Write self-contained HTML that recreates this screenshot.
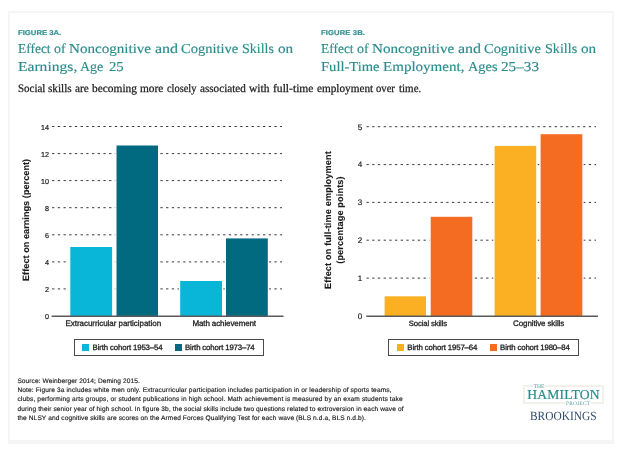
<!DOCTYPE html>
<html lang="en">
<head>
<meta charset="utf-8">
<title>Figure 3</title>
<style>
html,body{margin:0;padding:0;background:#fff;}
body{width:628px;height:458px;position:relative;overflow:hidden;text-rendering:geometricPrecision;font-family:"Liberation Sans",sans-serif;}
.abs{position:absolute;white-space:nowrap;line-height:1;}
#frame{position:absolute;left:8px;top:11px;width:602px;height:427px;border:2px solid #f5f5f5;border-bottom-width:4px;}
.fig{font-family:"Liberation Sans",sans-serif;font-weight:bold;font-size:7px;color:#359393;-webkit-text-stroke:0.2px #359393;transform-origin:0 0;transform:scaleX(1.1);}
.title{font-family:"Liberation Serif",serif;font-size:13.6px;color:#2b8c8c;line-height:19px;-webkit-text-stroke:0.15px #2b8c8c;}
.sub{font-family:"Liberation Serif",serif;font-size:11.5px;color:#1c1c1c;-webkit-text-stroke:0.25px #1c1c1c;}
.note{font-family:"Liberation Sans",sans-serif;font-size:6.6px;color:#1c1c1c;line-height:9.2px;-webkit-text-stroke:0.15px #1c1c1c;}
.tick{font-family:"Liberation Sans",sans-serif;font-size:7.2px;color:#222;text-align:right;-webkit-text-stroke:0.2px #222;}
.cat{font-family:"Liberation Sans",sans-serif;font-size:8px;color:#222;-webkit-text-stroke:0.3px #222;}
.leg{font-family:"Liberation Sans",sans-serif;font-size:7.8px;color:#222;-webkit-text-stroke:0.3px #222;}
.ylab{font-family:"Liberation Sans",sans-serif;font-weight:bold;font-size:9.1px;color:#1a1a1a;-webkit-text-stroke:0.12px #1a1a1a;transform-origin:0 0;transform:rotate(-90deg);text-align:center;}
.line{position:absolute;left:0;width:628px;height:19px;white-space:nowrap;}
.w{position:absolute;top:0;transform-origin:0 0;}
.title .w{transform-origin:0 14.3px;}
.legbox{position:absolute;border:1.2px solid #4a4a4a;box-sizing:border-box;}
.sw{position:absolute;width:7px;height:7px;}
svg{position:absolute;left:0;top:0;}
/*LS-START*/
#figa{letter-spacing:-0.003px;}
#figb{letter-spacing:0.075px;}
#c1{letter-spacing:-0.048px;}
#c2{letter-spacing:-0.112px;}
#c3{letter-spacing:-0.12px;}
#c4{letter-spacing:-0.12px;}
#l1{letter-spacing:-0.126px;}
#l2{letter-spacing:-0.142px;}
#l3{letter-spacing:-0.121px;}
#l4{letter-spacing:-0.142px;}
#n1{letter-spacing:0.074px;}
#n2{letter-spacing:0.117px;}
#n3{letter-spacing:0.129px;}
#n4{letter-spacing:0.092px;}
#n5{letter-spacing:0.093px;}
#ham{letter-spacing:0.2px;}
#ta1w1{transform:scaleX(0.989);}
#ta1w2{transform:scaleX(1.024);}
#ta1w3{transform:scaleX(1.109);}
#ta1w4{transform:scaleX(1.176);}
#ta1w5{transform:scaleX(1.068);}
#ta1w6{transform:scaleX(1.030);}
#ta1w7{transform:scaleX(1.118);}
#ta2w1{transform:scaleX(1.146);}
#ta2w2{transform:scaleX(1.028);}
#ta2w3{transform:scaleX(1.082);}
#tb1w1{transform:scaleX(0.989);}
#tb1w2{transform:scaleX(1.024);}
#tb1w3{transform:scaleX(1.112);}
#tb1w4{transform:scaleX(1.176);}
#tb1w5{transform:scaleX(1.063);}
#tb1w6{transform:scaleX(1.039);}
#tb1w7{transform:scaleX(1.118);}
#tb2w1{transform:scaleX(1.072);}
#tb2w2{transform:scaleX(1.106);}
#tb2w3{transform:scaleX(1.055);}
#tb2w4{transform:scaleX(1.118);}
#subw1{transform:scaleX(0.953);}
#subw2{transform:scaleX(0.975);}
#subw3{transform:scaleX(0.975);}
#subw4{transform:scaleX(0.992);}
#subw5{transform:scaleX(0.990);}
#subw6{transform:scaleX(0.902);}
#subw7{transform:scaleX(0.969);}
#subw8{transform:scaleX(1.002);}
#subw9{transform:scaleX(1.006);}
#subw10{transform:scaleX(0.976);}
#subw11{transform:scaleX(0.925);}
#subw12{transform:scaleX(0.956);}
/*LS-END*/
</style>
</head>
<body>
<div id="frame"></div>

<div class="abs fig" id="figa" style="left:17.8px;top:29.6px;">FIGURE 3A.</div>

<div class="abs fig" id="figb" style="left:321px;top:29.6px;">FIGURE 3B.</div>


<div class="line title" id="ta1" style="top:38.9px;"><span class="w" id="ta1w1" style="left:17.6px;">Effect</span> <span class="w" id="ta1w2" style="left:53.9px;">of</span> <span class="w" id="ta1w3" style="left:68.9px;">Noncognitive</span> <span class="w" id="ta1w4" style="left:154.5px;">and</span> <span class="w" id="ta1w5" style="left:181.2px;">Cognitive</span> <span class="w" id="ta1w6" style="left:242.4px;">Skills</span> <span class="w" id="ta1w7" style="left:278.2px;">on</span></div>
<div class="line title" id="ta2" style="top:57.2px;"><span class="w" id="ta2w1" style="left:17.7px;">Earnings,</span> <span class="w" id="ta2w2" style="left:80.4px;">Age</span> <span class="w" id="ta2w3" style="left:108.7px;">25</span></div>
<div class="line title" id="tb1" style="top:38.9px;"><span class="w" id="tb1w1" style="left:320.7px;">Effect</span> <span class="w" id="tb1w2" style="left:357.2px;">of</span> <span class="w" id="tb1w3" style="left:372.0px;">Noncognitive</span> <span class="w" id="tb1w4" style="left:457.6px;">and</span> <span class="w" id="tb1w5" style="left:483.9px;">Cognitive</span> <span class="w" id="tb1w6" style="left:545.2px;">Skills</span> <span class="w" id="tb1w7" style="left:581.1px;">on</span></div>
<div class="line title" id="tb2" style="top:57.2px;"><span class="w" id="tb2w1" style="left:321.1px;">Full-Time</span> <span class="w" id="tb2w2" style="left:383.1px;">Employment,</span> <span class="w" id="tb2w3" style="left:467.9px;">Ages</span> <span class="w" id="tb2w4" style="left:501.4px;">25–33</span></div>
<div class="line sub" id="sub" style="top:82.5px;"><span class="w" id="subw1" style="left:17.7px;">Social</span> <span class="w" id="subw2" style="left:47.9px;">skills</span> <span class="w" id="subw3" style="left:74.7px;">are</span> <span class="w" id="subw4" style="left:91.9px;">becoming</span> <span class="w" id="subw5" style="left:140.3px;">more</span> <span class="w" id="subw6" style="left:167.1px;">closely</span> <span class="w" id="subw7" style="left:199.6px;">associated</span> <span class="w" id="subw8" style="left:248.8px;">with</span> <span class="w" id="subw9" style="left:272.7px;">full-time</span> <span class="w" id="subw10" style="left:316.5px;">employment</span> <span class="w" id="subw11" style="left:376.2px;">over</span> <span class="w" id="subw12" style="left:398.6px;">time.</span></div>
<svg width="628" height="458" viewBox="0 0 628 458">
  <g stroke="#383838" stroke-width="1" stroke-dasharray="2.3 3.4" fill="none">
    <line x1="52.1" y1="126.5" x2="282" y2="126.5"/>
    <line x1="52.1" y1="153.6" x2="282" y2="153.6"/>
    <line x1="52.1" y1="180.6" x2="282" y2="180.6"/>
    <line x1="52.1" y1="207.7" x2="282" y2="207.7"/>
    <line x1="52.1" y1="234.8" x2="282" y2="234.8"/>
    <line x1="52.1" y1="261.9" x2="282" y2="261.9"/>
    <line x1="52.1" y1="288.9" x2="282" y2="288.9"/>
    <line x1="366.5" y1="126.7" x2="596" y2="126.7"/>
    <line x1="366.5" y1="164.6" x2="596" y2="164.6"/>
    <line x1="366.5" y1="202.4" x2="596" y2="202.4"/>
    <line x1="366.5" y1="240.2" x2="596" y2="240.2"/>
    <line x1="366.5" y1="278.1" x2="596" y2="278.1"/>
  </g>
  <g fill="#fff">
    <rect x="69.0" y="245.7" width="44.4" height="70.5"/>
    <rect x="115.2" y="144.2" width="44.1" height="172.0"/>
    <rect x="178.9" y="279.7" width="44.4" height="36.5"/>
    <rect x="224.7" y="237.1" width="44.4" height="79.1"/>
    <rect x="383.3" y="295.0" width="44.0" height="21.2"/>
    <rect x="429.4" y="215.5" width="44.2" height="100.7"/>
    <rect x="493.3" y="144.6" width="44.2" height="171.6"/>
    <rect x="539.3" y="132.9" width="44.3" height="183.3"/>
  </g>
  <rect x="70.3" y="247.0" width="41.8" height="69.2" fill="#0ab6d8"/>
  <rect x="116.5" y="145.5" width="41.5" height="170.7" fill="#026a80"/>
  <rect x="180.2" y="281.0" width="41.8" height="35.2" fill="#0ab6d8"/>
  <rect x="226.0" y="238.4" width="41.8" height="77.8" fill="#026a80"/>
  <rect x="384.6" y="296.3" width="41.4" height="19.9" fill="#fbb024"/>
  <rect x="430.7" y="216.8" width="41.6" height="99.4" fill="#f36c21"/>
  <rect x="494.6" y="145.9" width="41.6" height="170.3" fill="#fbb024"/>
  <rect x="540.6" y="134.2" width="41.7" height="182.0" fill="#f36c21"/>
  <line x1="51.6" y1="316.2" x2="283.5" y2="316.2" stroke="#5a5a5a" stroke-width="1.4"/>
  <line x1="366.3" y1="316.2" x2="598" y2="316.2" stroke="#5a5a5a" stroke-width="1.4"/>
</svg>

<!-- left ticks -->
<div class="abs tick" style="left:28px;width:21px;top:123.9px;">14</div>
<div class="abs tick" style="left:28px;width:21px;top:151.0px;">12</div>
<div class="abs tick" style="left:28px;width:21px;top:178.0px;">10</div>
<div class="abs tick" style="left:28px;width:21px;top:205.1px;">8</div>
<div class="abs tick" style="left:28px;width:21px;top:232.1px;">6</div>
<div class="abs tick" style="left:28px;width:21px;top:259.2px;">4</div>
<div class="abs tick" style="left:28px;width:21px;top:286.2px;">2</div>
<div class="abs tick" style="left:28px;width:21px;top:313.3px;">0</div>
<!-- right ticks -->
<div class="abs tick" style="left:342px;width:20.2px;top:123.6px;font-size:8px;">5</div>
<div class="abs tick" style="left:342px;width:20.2px;top:161.4px;font-size:8px;">4</div>
<div class="abs tick" style="left:342px;width:20.2px;top:199.3px;font-size:8px;">3</div>
<div class="abs tick" style="left:342px;width:20.2px;top:237.2px;font-size:8px;">2</div>
<div class="abs tick" style="left:342px;width:20.2px;top:275.0px;font-size:8px;">1</div>
<div class="abs tick" style="left:342px;width:20.2px;top:312.9px;font-size:8px;">0</div>

<div class="abs ylab" id="yl1" style="left:22.1px;top:280.6px;letter-spacing:0.05px;">Effect on earnings (percent)</div>
<div class="abs ylab" id="yl2" style="left:322.9px;top:288.7px;line-height:11.8px;letter-spacing:0.17px;">Effect on full-time employment<br>(percentage points)</div>

<div class="abs cat" id="c1" style="left:65.5px;top:320px;">Extracurricular participation</div>
<div class="abs cat" id="c2" style="left:192.4px;top:320px;">Math achievement</div>
<div class="abs cat" id="c3" style="left:408.8px;top:320.2px;font-size:7.7px;">Social skills</div>
<div class="abs cat" id="c4" style="left:513.1px;top:320px;">Cognitive skills</div>

<div class="legbox" style="left:74px;top:338.9px;width:190.2px;height:17.3px;"></div>
<div class="sw" style="left:82.3px;top:344px;background:#0ab6d8;"></div>
<div class="abs leg" id="l1" style="left:92.6px;top:343.8px;">Birth cohort 1953–54</div>
<div class="sw" style="left:174.6px;top:344px;background:#026a80;"></div>
<div class="abs leg" id="l2" style="left:185px;top:343.8px;">Birth cohort 1973–74</div>

<div class="legbox" style="left:388.1px;top:338.9px;width:190.8px;height:17.3px;"></div>
<div class="sw" style="left:397.4px;top:344px;background:#fbb024;"></div>
<div class="abs leg" id="l3" style="left:407.3px;top:343.8px;">Birth cohort 1957–64</div>
<div class="sw" style="left:490.2px;top:344px;background:#f36c21;"></div>
<div class="abs leg" id="l4" style="left:500.1px;top:343.8px;">Birth cohort 1980–84</div>

<div class="abs note" id="n1" style="left:17.4px;top:376.6px;">Source: Weinberger 2014; Deming 2015.</div>
<div class="abs note" id="n2" style="left:17.4px;top:385.7px;">Note: Figure 3a includes white men only. Extracurricular participation includes participation in or leadership of sports teams,</div>
<div class="abs note" id="n3" style="left:17.4px;top:395.0px;">clubs, performing arts groups, or student publications in high school. Math achievement is measured by an exam students take</div>
<div class="abs note" id="n4" style="left:17.4px;top:404.7px;">during their senior year of high school. In figure 3b, the social skills include two questions related to extroversion in each wave of</div>
<div class="abs note" id="n5" style="left:17.4px;top:414.0px;">the NLSY and cognitive skills are scores on the Armed Forces Qualifying Test for each wave (BLS n.d.a, BLS n.d.b).</div>

<!-- logo -->
<div style="position:absolute;left:522.9px;top:385.4px;width:81.2px;height:18.5px;border:2px solid #f1f0e9;box-sizing:border-box;"></div>
<div class="abs" id="the" style="left:533.2px;top:385.2px;font-family:'Liberation Serif',serif;font-size:5.6px;color:#4f9a9a;background:#fff;padding:0 0.6px;letter-spacing:-0.1px;">THE</div>
<div class="abs" id="ham" style="left:527.3px;top:388.3px;font-family:'Liberation Serif',serif;font-size:13.6px;color:#2b8c8c;-webkit-text-stroke:0.2px #2b8c8c;">HAMILTON</div>
<div class="abs" id="proj" style="left:565.4px;top:401.6px;font-family:'Liberation Serif',serif;font-size:5.4px;color:#4f9a9a;background:#fff;padding:0 0.6px;letter-spacing:0.25px;">PROJECT</div>
<div class="abs" id="brk" style="left:530.4px;top:408.9px;font-family:'Liberation Serif',serif;font-size:12.6px;color:#2f4a6d;transform-origin:0 0;transform:translateY(0.5px) scaleX(0.905);">BROOKINGS</div>
</body>
</html>
